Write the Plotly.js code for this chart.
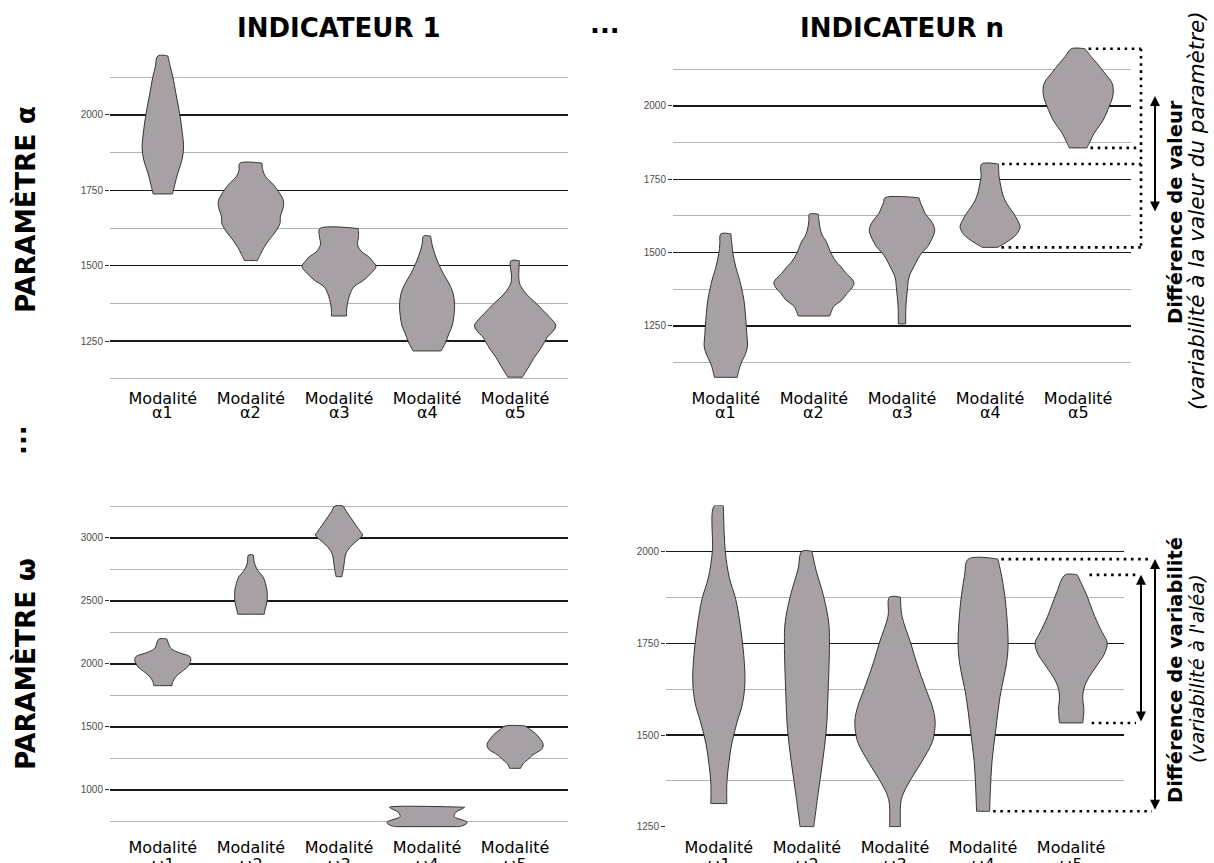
<!DOCTYPE html>
<html>
<head>
<meta charset="utf-8">
<script src="https://cdn.plot.ly/plotly-3.0.1.min.js"></script>
<style>
html,body{margin:0;padding:0;background:#fff;overflow:hidden}
#chart{width:1214px;height:863px}
</style>
</head>
<body>
<div id="chart"></div>
<script>
// ---------------- DATA ----------------
const categoryPositions = [1, 2, 3, 4, 5];
const categoryWord = ['Modalité', 'Modalité', 'Modalité', 'Modalité', 'Modalité'];
const alphaCodes = ['α1', 'α2', 'α3', 'α4', 'α5'];
const omegaCodes = ['ω1', 'ω2', 'ω3', 'ω4', 'ω5'];
const columnTitles = ['INDICATEUR 1', 'INDICATEUR n'];
const rowTitles = ['PARAMÈTRE α', 'PARAMÈTRE ω'];
const valueLabel = ['Différence de valeur', '(variabilité à la valeur du paramètre)'];
const variabilityLabel = ['Différence de variabilité', "(variabilité à l'aléa)"];

// Violin outlines: value levels (top -> bottom) and density half-widths at each level
const ind1AlphaLevels = [
  [2196, 2160, 2126, 2072, 2000, 1940, 1890, 1850, 1808, 1770, 1738],
  [1840, 1815, 1796, 1770, 1746, 1715, 1690, 1665, 1640, 1615, 1585, 1560, 1541, 1517],
  [1623, 1596, 1570, 1545, 1530, 1513, 1497, 1475, 1452, 1430, 1408, 1364, 1333],
  [1598, 1570, 1541, 1510, 1475, 1440, 1408, 1370, 1331, 1300, 1276, 1242, 1217],
  [1516, 1463, 1440, 1430, 1415, 1403, 1390, 1375, 1358, 1342, 1320, 1303, 1290, 1276, 1262, 1248, 1221, 1195, 1165, 1145, 1130]
];
const ind1AlphaDensity = [
  [5, 7.5, 10, 13, 17, 19.5, 20.7, 19, 15, 12, 9.7],
  [11, 12, 14.5, 22, 27.5, 32.5, 32, 29.5, 29, 25, 18, 13, 10, 6.5],
  [19.2, 19.5, 18.5, 23, 29.6, 34, 37, 32, 24.7, 15, 11.3, 7.9, 7.5],
  [3.6, 5, 7.5, 11, 16, 22, 26, 27.5, 26.7, 25, 22, 18, 14],
  [4.3, 3.6, 4.5, 6, 9, 12, 16, 21, 26, 30.6, 37, 40.5, 39.5, 36, 32, 29.6, 24.7, 19, 13.8, 10, 7.3]
];
const indNAlphaLevels = [
  [1564, 1530, 1498, 1450, 1407, 1339, 1270, 1220, 1179, 1150, 1134, 1111, 1075],
  [1631, 1610, 1577, 1555, 1540, 1520, 1498, 1480, 1464, 1452, 1430, 1410, 1396, 1380, 1361, 1339, 1316, 1300, 1284],
  [1687, 1670, 1650, 1634, 1615, 1600, 1577, 1555, 1535, 1520, 1500, 1480, 1452, 1430, 1410, 1384, 1316, 1257],
  [1802, 1760, 1725, 1700, 1680, 1655, 1634, 1610, 1589, 1570, 1554, 1535, 1518],
  [2195, 2168, 2146, 2110, 2077, 2043, 2020, 1998, 1952, 1907, 1880, 1857]
];
const indNAlphaDensity = [
  [5, 6, 7, 10, 13.7, 18, 20, 21, 21.6, 19, 16.7, 14, 11.4],
  [4.5, 5, 6.5, 9, 12, 14.5, 17, 20, 23.5, 27, 32, 38, 40, 38, 33, 28, 19.6, 17.5, 15.7],
  [17, 18.5, 21, 23, 27.5, 30.5, 32.7, 31, 28, 25.5, 20, 16, 11.8, 8.5, 6.5, 5.7, 3.9, 3.7],
  [8.4, 9, 10.8, 12.5, 14.7, 19, 23.5, 27.5, 30, 28, 24, 16, 7.8],
  [6.9, 13, 18.6, 27, 34, 35, 33.5, 31, 25, 16, 12, 8.8]
];
const ind1OmegaLevels = [
  [2198, 2125, 2100, 2085, 2058, 2032, 2005, 1979, 1940, 1899, 1860, 1828],
  [2865, 2799, 2740, 2693, 2640, 2587, 2494, 2429, 2395],
  [3254, 3210, 3169, 3100, 3050, 3024, 2985, 2944, 2900, 2865, 2772, 2693],
  [863, 850, 825, 800, 788, 775, 760, 745, 730, 718, 709],
  [1508, 1480, 1450, 1420, 1400, 1375, 1349, 1320, 1300, 1275, 1251, 1210, 1172]
];
const ind1OmegaDensity = [
  [4, 8, 13, 18, 27, 28, 27, 25, 19, 13, 10, 9],
  [2.4, 3.6, 7, 12, 14.5, 16, 16, 14, 13.4],
  [4, 7.5, 11, 17, 21.5, 23.5, 19, 13, 8.5, 6.5, 4.7, 3],
  [37.5, 35, 29, 27, 27, 30, 36, 40, 39, 36, 32],
  [10, 15, 20, 23.5, 25.5, 27.5, 28, 26, 22, 17, 14, 8, 5.5]
];
const indNOmegaLevels = [
  [2125, 2000, 1929, 1869, 1787, 1696, 1641, 1587, 1533, 1478, 1424, 1369, 1313],
  [2001, 1951, 1878, 1806, 1751, 1606, 1515, 1424, 1333, 1250],
  [1876, 1824, 1751, 1697, 1624, 1580, 1542, 1510, 1479, 1424, 1369, 1324, 1250],
  [1980, 1933, 1860, 1751, 1697, 1606, 1515, 1424, 1351, 1292],
  [1937, 1887, 1824, 1780, 1751, 1720, 1697, 1642, 1606, 1569, 1533]
];
const indNOmegaDensity = [
  [4.5, 6.5, 10.5, 17, 22, 25.5, 26, 23.7, 18, 13, 10, 8, 8],
  [5, 9, 16.7, 21.8, 22.5, 21, 19.4, 15.5, 10.8, 6.9],
  [5.5, 7, 15.7, 21.6, 31, 37, 40, 39.5, 37, 26, 13.7, 6.3, 5.5],
  [14.7, 18.6, 22.5, 25, 23.5, 17, 12.7, 8.8, 7.3, 6.5],
  [6, 14.7, 23.5, 31, 36, 33, 27.5, 14.7, 11.6, 12.7, 11.6]
];

// ---------------- STYLE / LAYOUT ----------------
const W = 1214, H = 863;
const densityScale = 1 / 88;           // density units -> category units
const XR = [0.4, 5.6];
const violinFill = '#a7a1a5';
const violinLine = '#333333';
const px = p => p / W;
const py = p => 1 - p / H;
const dom = {
  tl: {x: [110, 568], y: [50.2, 383.2], yr: [1110, 2215]},
  tr: {x: [673, 1131], y: [42.9, 383.2], yr: [1055, 2215]},
  bl: {x: [110, 568], y: [502.7, 830.3], yr: [680, 3280]},
  br: {x: [666, 1124], y: [505.2, 827.4], yr: [1248, 2127]}
};
function xDomain(d) { return [px(d.x[0]), px(d.x[1])]; }
function yDomain(d) { return [py(d.y[1]), py(d.y[0])]; }
function dataXToPaper(d, xv) {
  const [a, b] = xDomain(d);
  return a + (xv - XR[0]) / (XR[1] - XR[0]) * (b - a);
}

function violinTrace(cat, levels, dens, xa, ya) {
  const xs = [], ys = [];
  const n = levels.length;
  for (let i = 0; i < n; i++) { xs.push(cat - dens[i] * densityScale); ys.push(levels[i]); }
  xs.push(cat - dens[n - 1] * densityScale); ys.push(levels[n - 1]);
  for (let i = n - 1; i >= 0; i--) {
    xs.push(cat + dens[i] * densityScale); ys.push(levels[i]);
    if (i === n - 1 || i === 0) { xs.push(cat + dens[i] * densityScale); ys.push(levels[i]); }
  }
  xs.push(xs[0]); ys.push(ys[0]);
  return {
    type: 'scatter', mode: 'lines', x: xs, y: ys, xaxis: xa, yaxis: ya,
    fill: 'toself', fillcolor: violinFill,
    line: {color: violinLine, width: 1, shape: 'spline', smoothing: 1, simplify: false},
    hoverinfo: 'skip', showlegend: false
  };
}

const traces = [];
const panels = [
  {levels: ind1AlphaLevels, dens: ind1AlphaDensity, xa: 'x', ya: 'y'},
  {levels: indNAlphaLevels, dens: indNAlphaDensity, xa: 'x2', ya: 'y2'},
  {levels: ind1OmegaLevels, dens: ind1OmegaDensity, xa: 'x3', ya: 'y3'},
  {levels: indNOmegaLevels, dens: indNOmegaDensity, xa: 'x4', ya: 'y4'}
];
panels.forEach(p => {
  categoryPositions.forEach((c, i) => traces.push(violinTrace(c, p.levels[i], p.dens[i], p.xa, p.ya)));
});

const labelFont = {family: 'DejaVu Sans', size: 16, color: '#000'};
function xAxis(d, labels, anchor, standoff) {
  return {
    domain: xDomain(d), range: XR, anchor: anchor,
    tickmode: 'array', tickvals: categoryPositions, ticktext: labels,
    showgrid: false, zeroline: false, showline: false, ticks: '',
    ticklabelstandoff: standoff, tickfont: labelFont, fixedrange: true
  };
}
function yAxis(d, anchor, major, minor) {
  return {
    domain: yDomain(d), range: d.yr, anchor: anchor,
    tickmode: 'linear', tick0: 0, dtick: major,
    ticks: 'outside', ticklen: 4, tickcolor: '#333', tickwidth: 1,
    showgrid: true, gridcolor: '#1a1a1a', gridwidth: 1.2,
    zeroline: false, showline: false,
    tickfont: {family: 'Liberation Sans', size: 10, color: '#4d4d4d'},
    minor: {tick0: 0, dtick: minor, showgrid: true, gridcolor: '#b3b3b3', gridwidth: 1, ticks: ''},
    fixedrange: true
  };
}

// dotted guide lines & arrows
const dotLine = {color: '#000', width: 2.6, dash: '2.6px,4.6px'};
const shapes = [];
function hDot(d, yref, yv, xDataStart, xPixEnd) {
  shapes.push({type: 'line', xref: 'paper', yref: yref,
    x0: dataXToPaper(d, xDataStart), x1: px(xPixEnd), y0: yv, y1: yv, line: dotLine});
}
const maxOf = a => Math.max.apply(null, a);
const minOf = a => Math.min.apply(null, a);
// top-right (valeur)
const a5 = indNAlphaLevels[4], a4 = indNAlphaLevels[3];
const a5d = indNAlphaDensity[4], a4d = indNAlphaDensity[3];
hDot(dom.tr, 'y2', maxOf(a5), 5 + a5d[0] * densityScale + 0.04, 1141);
hDot(dom.tr, 'y2', minOf(a5), 5 + a5d[a5d.length - 1] * densityScale + 0.04, 1141);
hDot(dom.tr, 'y2', maxOf(a4), 4 + a4d[0] * densityScale + 0.04, 1141);
hDot(dom.tr, 'y2', minOf(a4), 4 + a4d[a4d.length - 1] * densityScale + 0.04, 1141);
shapes.push({type: 'line', xref: 'paper', yref: 'y2', x0: px(1141), x1: px(1141),
  y0: maxOf(a5), y1: minOf(a4), line: dotLine});
// bottom-right (variabilité)
const w4 = indNOmegaLevels[3], w5 = indNOmegaLevels[4];
const w4d = indNOmegaDensity[3], w5d = indNOmegaDensity[4];
hDot(dom.br, 'y4', maxOf(w4), 4 + w4d[0] * densityScale + 0.04, 1152);
hDot(dom.br, 'y4', minOf(w4), 4 + w4d[w4d.length - 1] * densityScale + 0.04, 1152);
hDot(dom.br, 'y4', maxOf(w5), 5 + w5d[0] * densityScale + 0.14, 1136);
hDot(dom.br, 'y4', minOf(w5), 5 + w5d[w5d.length - 1] * densityScale + 0.1, 1136);

function arrow(xPix, yref, y0, y1) {
  return {xref: 'paper', yref: yref, x: px(xPix), y: y0, axref: 'pixel', ax: 0, ayref: yref, ay: y1,
    text: '', showarrow: true, arrowhead: 2, arrowsize: 1, arrowwidth: 2, arrowcolor: '#000',
    arrowside: 'end+start', standoff: 0, startstandoff: 0};
}

const boldFont = (s) => ({family: 'DejaVu Sans', size: s, color: '#000', weight: 'bold'});
const italFont = (s) => ({family: 'DejaVu Sans', size: s, color: '#000', style: 'italic'});
function txt(text, xp, yp, font, angle) {
  return {xref: 'paper', yref: 'paper', x: px(xp), y: py(yp), text: text, showarrow: false,
    xanchor: 'center', yanchor: 'middle', font: font, textangle: angle || 0};
}
// second line of the category labels, placed under each category tick
function codeLabels(codes, xref, yPix) {
  return codes.map((c, i) => ({xref: xref, yref: 'paper', x: categoryPositions[i], y: py(yPix),
    text: c, showarrow: false, xanchor: 'center', yanchor: 'middle', borderpad: 0, font: labelFont}));
}

const annotations = [
  txt(columnTitles[0], 339, 28, boldFont(26)),
  txt(columnTitles[1], 902, 28, boldFont(26)),
  txt('...', 605, 24, boldFont(26)),
  txt(rowTitles[0], 25, 210, boldFont(26.5), -90),
  txt(rowTitles[1], 25, 664, boldFont(26.5), -90),
  txt('...', 17, 440, boldFont(26), -90),
  txt(valueLabel[0], 1175, 212, boldFont(19.5), -90),
  txt(valueLabel[1], 1197, 211, italFont(21.5), -90),
  txt(variabilityLabel[0], 1175, 670, boldFont(19.5), -90),
  txt(variabilityLabel[1], 1197, 669, italFont(19.5), -90),
  arrow(1155, 'y2', 2034, 1635),
  arrow(1155, 'y4', maxOf(w4), minOf(w4)),
  arrow(1141, 'y4', maxOf(w5), minOf(w5))
].concat(
  codeLabels(alphaCodes, 'x', 412),
  codeLabels(alphaCodes, 'x2', 412),
  codeLabels(omegaCodes, 'x3', 864),
  codeLabels(omegaCodes, 'x4', 864)
);

const layout = {
  width: W, height: H,
  margin: {l: 0, r: 0, t: 0, b: 0, pad: 0},
  paper_bgcolor: '#fff', plot_bgcolor: '#fff',
  showlegend: false,
  xaxis: xAxis(dom.tl, categoryWord, 'y', 4),
  yaxis: yAxis(dom.tl, 'x', 250, 125),
  xaxis2: xAxis(dom.tr, categoryWord, 'y2', 4),
  yaxis2: yAxis(dom.tr, 'x2', 250, 125),
  xaxis3: xAxis(dom.bl, categoryWord, 'y3', 6),
  yaxis3: yAxis(dom.bl, 'x3', 500, 250),
  xaxis4: xAxis(dom.br, categoryWord, 'y4', 9),
  yaxis4: yAxis(dom.br, 'x4', 250, 125),
  shapes: shapes,
  annotations: annotations
};

Plotly.newPlot('chart', traces, layout, {staticPlot: true, displayModeBar: false});
</script>
</body>
</html>
